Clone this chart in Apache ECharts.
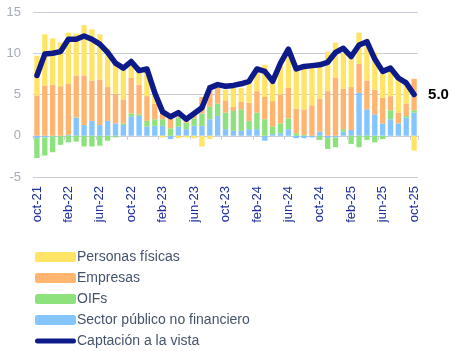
<!DOCTYPE html>
<html>
<head>
<meta charset="utf-8">
<script src="https://cdn.jsdelivr.net/npm/echarts@6/dist/echarts.min.js"></script>
<style>
html, body { margin: 0; padding: 0; background: #fff; }
#chart { width: 456px; height: 351px; }
</style>
</head>
<body>
<div id="chart"></div>
<script>
// months oct-21 .. oct-25
var months = ['oct-21','nov-21','dic-21','ene-22','feb-22','mar-22','abr-22','may-22','jun-22','jul-22','ago-22','sep-22',
	'oct-22','nov-22','dic-22','ene-23','feb-23','mar-23','abr-23','may-23','jun-23','jul-23','ago-23','sep-23',
	'oct-23','nov-23','dic-23','ene-24','feb-24','mar-24','abr-24','may-24','jun-24','jul-24','ago-24','sep-24',
	'oct-24','nov-24','dic-24','ene-25','feb-25','mar-25','abr-25','may-25','jun-25','jul-25','ago-25','sep-25','oct-25'];

var sectorPublico = [-0.3,-0.2,-0.1,0.0,0.1,2.2,1.3,1.8,1.3,1.8,1.5,1.3,
	2.3,2.4,1.1,1.2,1.2,-0.4,1.1,0.8,1.2,1.2,2.0,2.4,
	0.8,0.6,0.6,0.8,0.8,-0.6,0.2,0.3,0.8,-0.3,-0.3,-0.2,
	0.5,-0.3,-0.2,0.5,0.7,5.2,3.2,2.6,1.5,2.0,1.5,2.2,2.8];
var oifs = [-2.4,-2.2,-1.9,-1.1,-0.8,-0.7,-1.3,-1.3,-1.2,-0.6,-0.2,0.2,
	0.4,0.2,0.7,0.8,0.8,0.9,1.1,0.8,0.9,1.5,1.5,1.5,
	2.0,2.4,2.6,1.0,2.0,2.0,0.9,1.2,1.3,0.3,0.1,0.0,
	-0.5,-1.3,-1.2,0.3,-1.0,-1.4,-0.5,-0.8,-0.4,1.1,0.0,0.2,0.3];
var empresas = [4.9,6.1,6.2,6.0,6.2,5.1,6.0,4.9,5.5,4.1,3.6,2.9,
	4.3,3.6,3.0,1.9,0.8,1.5,0.7,0.5,0.8,2.0,2.6,1.9,
	1.5,0.5,0.9,2.2,2.6,2.7,3.1,3.5,3.7,3.0,3.1,3.7,
	4.0,5.4,7.0,4.9,5.2,3.5,3.5,3.0,3.1,1.7,1.3,1.5,3.8];
var personas = [4.8,6.2,5.6,5.3,6.2,5.1,6.1,6.2,5.5,4.7,3.9,3.6,
	2.0,1.8,3.0,1.0,-0.2,0.2,-0.3,-0.2,-0.3,-1.3,-0.4,0.4,
	1.3,2.4,1.7,2.4,2.6,3.9,2.2,3.4,4.8,4.8,5.1,4.8,
	4.5,4.8,4.3,4.3,4.2,3.8,5.0,4.5,3.6,3.4,4.1,2.5,-1.8];
var captacion = [7.3,9.9,10.0,10.2,11.7,11.7,12.1,11.7,11.1,10.1,8.8,8.2,
	9.0,7.9,8.1,5.2,2.9,2.3,2.8,2.0,2.7,3.4,5.8,6.2,
	6.0,6.1,6.3,6.6,8.1,7.8,6.6,8.8,10.5,8.1,8.4,8.5,
	8.6,8.9,10.1,10.6,9.6,11.0,11.4,9.3,7.8,8.2,7.0,6.4,5.0];

var navy = '#0C1A8A';
var chart = echarts.init(document.getElementById('chart'));

function barSeries(name, data, color) {
	return {
		name: name,
		type: 'bar',
		stack: 'total',
		data: data,
		barCategoryGap: '32%',
		itemStyle: { color: color },
		emphasis: { disabled: true }
	};
}

var option = {
	animation: false,
	grid: { left: 33, right: 38, top: 12, bottom: 174 },
	legend: {
		orient: 'vertical',
		left: 30,
		top: 245,
		height: 110,
		itemWidth: 41,
		itemHeight: 10,
		itemGap: 7,
		data: ['Personas físicas', 'Empresas', 'OIFs', 'Sector público no financiero', {
			name: 'Captación a la vista',
			icon: 'path://M2.5,0 L38.5,0 A2.5,2.5 0 0 1 38.5,5 L2.5,5 A2.5,2.5 0 0 1 2.5,0 Z'
		}],
		textStyle: { fontFamily: 'Liberation Sans', fontSize: 14, color: '#44546A', padding: [0, 0, 0, -4] }
	},
	xAxis: [{
		type: 'category',
		data: months,
		position: 'bottom',
		axisLine: { show: false, onZero: false },
		axisTick: { show: false },
		axisLabel: {
			interval: 3,
			rotate: 90,
			margin: 9,
			fontFamily: 'Liberation Sans',
			fontSize: 13,
			color: '#1F2F9F'
		}
	}, {
		type: 'category',
		data: months,
		position: 'top',
		axisLine: { show: true, onZero: true, lineStyle: { color: '#C9CDD6', width: 1 } },
		axisTick: { show: true, inside: true, interval: 3, length: 4, lineStyle: { color: '#C9CDD6' } },
		axisLabel: { show: false }
	}],
	yAxis: {
		type: 'value',
		min: -5,
		max: 15,
		interval: 5,
		axisLine: { show: false },
		axisTick: { show: false },
		axisLabel: { fontFamily: 'Liberation Sans', fontSize: 13, color: '#A5ABB8', margin: 12 },
		splitLine: { lineStyle: { color: '#C9CDD6', width: 1 } }
	},
	series: [
		barSeries('Sector público no financiero', sectorPublico, '#84C5FF'),
		barSeries('OIFs', oifs, '#8DE27E'),
		barSeries('Empresas', empresas, '#FFB570'),
		barSeries('Personas físicas', personas, '#FFE466'),
		{
			name: 'Captación a la vista',
			type: 'line',
			data: captacion,
			symbol: 'none',
			z: 5,
			itemStyle: { color: navy },
			lineStyle: { color: navy, width: 5.5, cap: 'round', join: 'round' },
			endLabel: {
				show: true,
				formatter: function (p) { return p.value.toFixed(1); },
				distance: 14,
				fontFamily: 'Liberation Sans',
				fontSize: 15,
				fontWeight: 'bold',
				color: '#000'
			}
		}
	]
};
chart.setOption(option);
</script>
</body>
</html>
